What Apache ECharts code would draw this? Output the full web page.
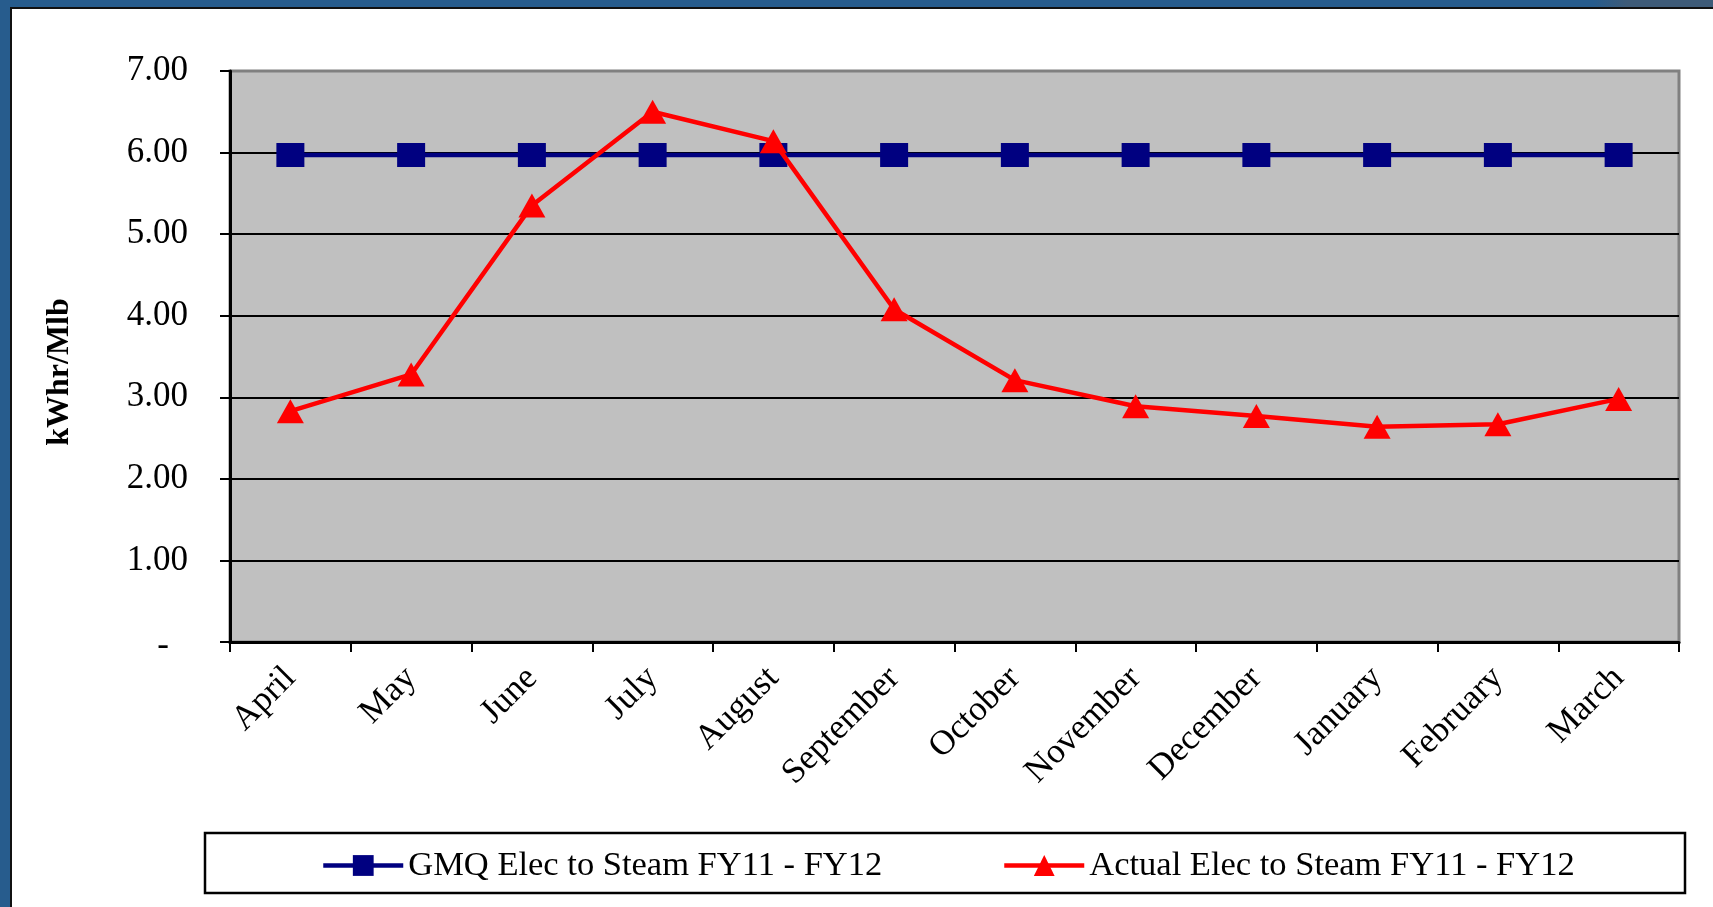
<!DOCTYPE html>
<html><head><meta charset="utf-8">
<script src="https://cdn.jsdelivr.net/npm/echarts@6/dist/echarts.min.js"></script>
<style>html,body{margin:0;padding:0;background:#fff;}#c{width:1713px;height:907px;}</style>
</head><body><div id="c"></div>
<script>
const months = ['April','May','June','July','August','September','October','November','December','January','February','March'];
const gmqValues = [5.97,5.97,5.97,5.97,5.97,5.97,5.97,5.97,5.97,5.97,5.97,5.97];
const actualValues = [2.83,3.28,5.35,6.50,6.14,4.08,3.21,2.89,2.77,2.64,2.67,2.98];
const gmqName = 'GMQ Elec to Steam FY11 - FY12';
const actualName = 'Actual Elec to Steam FY11 - FY12';
const yAxisTitle = 'kWhr/Mlb';

const serif = '"Liberation Serif","Times New Roman",serif';
const chart = echarts.init(document.getElementById('c'), null, {renderer:'canvas'});
const legendCommon = {top:843, itemWidth:80, itemHeight:26, itemGap:0,
  lineStyle:{width:4.5}, textStyle:{fontFamily:serif, fontSize:34.5, color:'#000'}, z:6};
chart.setOption({
  animation:false,
  backgroundColor:'#ffffff',
  graphic:[
    {type:'rect', shape:{x:0,y:0,width:10,height:907}, style:{fill:'#275C8D'}, z:0},
    {type:'rect', shape:{x:0,y:0,width:1713,height:7}, style:{fill:{type:'linear',x:0,y:0,x2:1,y2:0,colorStops:[{offset:0,color:'#275C8D'},{offset:0.93,color:'#275C8D'},{offset:0.95,color:'#3E5B78'},{offset:1,color:'#3E5B78'}]}}, z:0},
    {type:'rect', shape:{x:10,y:7,width:2,height:900}, style:{fill:'#111111'}, z:1},
    {type:'rect', shape:{x:10,y:7,width:1703,height:2}, style:{fill:'#111111'}, z:1},
    {type:'rect', shape:{x:205,y:833,width:1480,height:60}, style:{fill:'#ffffff',stroke:'#000000',lineWidth:2.5}, z:0},
    {type:'text', x:60, y:372, rotation:Math.PI/2, style:{text:yAxisTitle, font:'bold 32px '+serif, fill:'#000', align:'center', verticalAlign:'middle'}, z:5}
  ],
  grid:{left:230, top:71, right:34, bottom:265, show:true, backgroundColor:'#C0C0C0', borderColor:'#808080', borderWidth:3, containLabel:false, outerBoundsMode:'none'},
  legend:[
    Object.assign({data:[gmqName], left:316}, legendCommon),
    Object.assign({data:[actualName], left:997}, legendCommon)
  ],
  xAxis:{
    type:'category', data:months, boundaryGap:true,
    axisLine:{show:true, lineStyle:{color:'#000', width:3}},
    axisTick:{show:true, length:10, lineStyle:{color:'#000', width:2}},
    axisLabel:{rotate:45, interval:0, margin:31, fontFamily:serif, fontSize:35, color:'#000'},
    splitLine:{show:false}
  },
  yAxis:{
    type:'value', min:0, max:7, interval:1,
    axisLine:{show:true, lineStyle:{color:'#000', width:3}},
    axisTick:{show:true, length:10, lineStyle:{color:'#000', width:2}},
    axisLabel:{margin:42, fontFamily:serif, fontSize:35, color:'#000',
      formatter:function(v){ return v===0 ? '{z|-}' : v.toFixed(2); },
      rich:{z:{fontFamily:serif, fontSize:35, color:'#000', padding:[8,19,0,0]}}},
    splitLine:{show:true, showMaxLine:false, lineStyle:{color:'#000', width:2}}
  },
  series:[
    {name:gmqName, type:'line', data:gmqValues, symbol:'rect', symbolSize:[28,24],
      lineStyle:{color:'#000080', width:4.5}, itemStyle:{color:'#000080'}, color:'#000080', z:3},
    {name:actualName, type:'line', data:actualValues, symbol:'triangle', symbolSize:[27,24],
      lineStyle:{color:'#FF0000', width:4.5}, itemStyle:{color:'#FF0000'}, color:'#FF0000', z:4}
  ]
});
</script></body></html>
